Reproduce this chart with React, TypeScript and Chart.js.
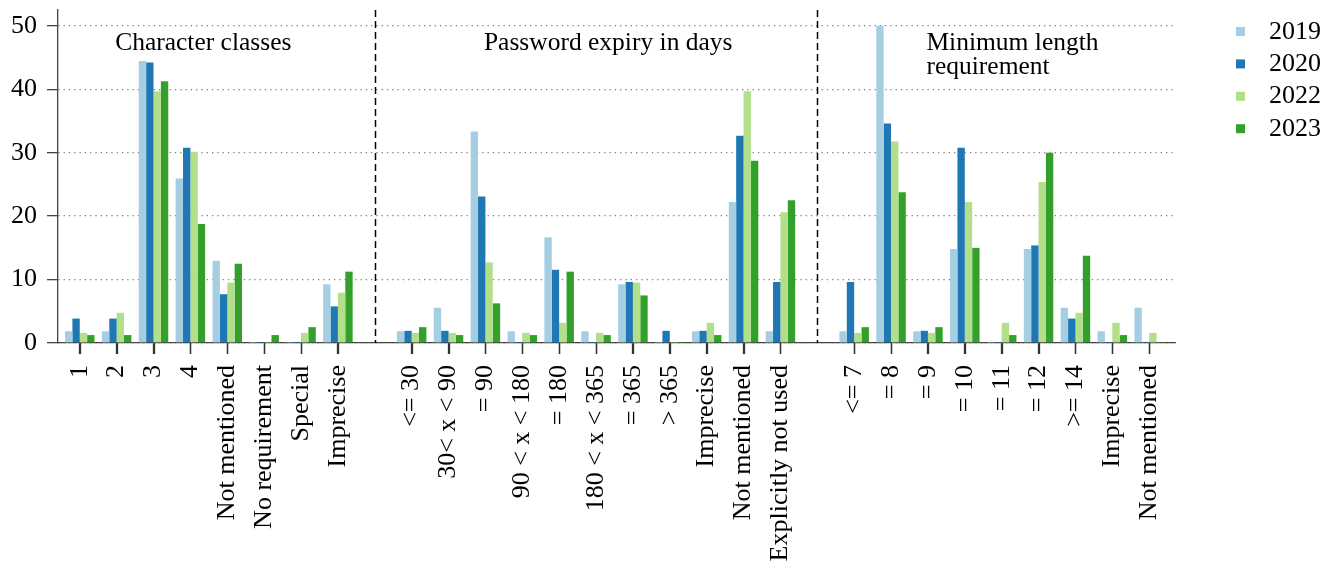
import React, { useEffect, useRef } from 'react';
import { Chart, registerables } from 'chart.js';

Chart.register(...registerables);

const FONT = '"Liberation Serif", "DejaVu Serif", serif';

const years = ['2019', '2020', '2022', '2023'];
const yearColors = ['#a6cee3', '#1f78b4', '#b2df8a', '#33a02c'];

const charClassCategories = ['1', '2', '3', '4', 'Not mentioned', 'No requirement', 'Special', 'Imprecise'];
const expiryCategories = ['<= 30', '30< x < 90', '= 90', '90 < x < 180', '= 180', '180 < x < 365', '= 365', '> 365', 'Imprecise', 'Not mentioned', 'Explicitly not used'];
const minLengthCategories = ['<= 7', '= 8', '= 9', '= 10', '= 11', '= 12', '>= 14', 'Imprecise', 'Not mentioned'];

const groupTitles = [['Character classes'], ['Password expiry in days'], ['Minimum length', 'requirement']];

// Percentages per year
const charClass2019 = [1.85, 1.85, 44.44, 25.93, 12.96, 0, 0, 9.26];
const charClass2020 = [3.85, 3.85, 44.23, 30.77, 7.69, 0, 0, 5.77];
const charClass2022 = [1.59, 4.76, 39.68, 30.16, 9.52, 0, 1.59, 7.94];
const charClass2023 = [1.25, 1.25, 41.25, 18.75, 12.5, 1.25, 2.5, 11.25];

const expiry2019 = [1.85, 5.56, 33.33, 1.85, 16.67, 1.85, 9.26, 0, 1.85, 22.22, 1.85];
const expiry2020 = [1.92, 1.92, 23.08, 0, 11.54, 0, 9.62, 1.92, 1.92, 32.69, 9.62];
const expiry2022 = [1.59, 1.59, 12.7, 1.59, 3.17, 1.59, 9.52, 0, 3.17, 39.68, 20.63];
const expiry2023 = [2.5, 1.25, 6.25, 1.25, 11.25, 1.25, 7.5, 0, 1.25, 28.75, 22.5];

const minLength2019 = [1.85, 50, 1.85, 14.81, 0, 14.81, 5.56, 1.85, 5.56];
const minLength2020 = [9.62, 34.62, 1.92, 30.77, 0, 15.38, 3.85, 0, 0];
const minLength2022 = [1.59, 31.75, 1.59, 22.22, 3.17, 25.4, 4.76, 3.17, 1.59];
const minLength2023 = [2.5, 23.75, 2.5, 15, 1.25, 30, 13.75, 1.25, 0];

const yTickValues = [0, 10, 20, 30, 40, 50];

const groups = [charClassCategories, expiryCategories, minLengthCategories];
const seriesByYear = [
  [charClass2019, expiry2019, minLength2019],
  [charClass2020, expiry2020, minLength2020],
  [charClass2022, expiry2022, minLength2022],
  [charClass2023, expiry2023, minLength2023],
];

// positions: groups separated by one empty slot
const groupStarts: number[] = [];
{
  let s = 0;
  for (const g of groups) {
    groupStarts.push(s);
    s += g.length + 1;
  }
}
const separatorPositions = groupStarts.slice(1).map((s) => s - 1);
const tickPositions: number[] = [];
const tickLabelMap: Record<number, string> = {};
groups.forEach((g, gi) => {
  g.forEach((lab, i) => {
    const p = groupStarts[gi] + i;
    tickPositions.push(p);
    tickLabelMap[p] = lab;
  });
});

export default function App() {
  const ref = useRef<HTMLCanvasElement | null>(null);

  useEffect(() => {
    if (!ref.current) return;

    const datasets = years.map((yr, yi) => {
      const data: { x: number; y: number }[] = [];
      groups.forEach((g, gi) => {
        seriesByYear[yi][gi].forEach((v, i) => data.push({ x: groupStarts[gi] + i, y: v }));
      });
      return {
        label: yr,
        data,
        backgroundColor: yearColors[yi],
        borderWidth: 0,
        categoryPercentage: 0.8,
        barPercentage: 1.0,
        minBarLength: 1,
      };
    });

    const overlay = {
      id: 'overlay',
      afterDraw(chart: any) {
        const { ctx, chartArea, scales } = chart;
        const xs = scales.x;
        ctx.save();
        // x tick marks
        ctx.strokeStyle = '#333';
        ctx.lineWidth = 1.3;
        for (const p of tickPositions) {
          const px = Math.round(xs.getPixelForValue(p)) + 0.5;
          ctx.beginPath();
          ctx.moveTo(px, chartArea.bottom);
          ctx.lineTo(px, chartArea.bottom + 11);
          ctx.stroke();
        }
        // separators
        ctx.strokeStyle = '#000';
        ctx.lineWidth = 1.5;
        ctx.setLineDash([7, 4]);
        for (const p of separatorPositions) {
          const px = Math.round(xs.getPixelForValue(p)) + 0.5;
          ctx.beginPath();
          ctx.moveTo(px, chartArea.top);
          ctx.lineTo(px, chartArea.bottom);
          ctx.stroke();
        }
        ctx.setLineDash([]);
        // group titles
        ctx.fillStyle = '#000';
        ctx.font = `25.5px ${FONT}`;
        ctx.textAlign = 'left';
        ctx.textBaseline = 'alphabetic';
        groupTitles.forEach((lines, gi) => {
          const px = xs.getPixelForValue(groupStarts[gi] + (gi === 0 ? 1 : 2)) - 1.5;
          lines.forEach((ln, li) => {
            ctx.fillText(ln, px, 50 + li * 24);
          });
        });
        // legend
        ctx.font = `26px ${FONT}`;
        chart.data.datasets.forEach((ds: any, i: number) => {
          const cy = 31.5 + i * 32.4;
          ctx.fillStyle = ds.backgroundColor;
          ctx.fillRect(1236, cy - 4.5, 9, 9);
          ctx.fillStyle = '#000';
          ctx.fillText(ds.label, 1269, cy + 7);
        });
        ctx.restore();
      },
    };

    const chart = new Chart(ref.current, {
      type: 'bar',
      data: { datasets },
      options: {
        animation: false,
        responsive: true,
        maintainAspectRatio: false,
        layout: { padding: { top: 10, right: 157, left: 0, bottom: 0 } },
        plugins: { legend: { display: false }, tooltip: { enabled: false } },
        scales: {
          x: {
            type: 'linear',
            offset: false,
            min: -0.59,
            max: 29.7,
            afterBuildTicks: (scale: any) => {
              scale.ticks = tickPositions.map((v) => ({ value: v }));
            },
            afterFit: (scale: any) => {
              scale.height = 222;
              scale.paddingLeft = 0;
              scale.paddingRight = 0;
            },
            ticks: {
              autoSkip: false,
              minRotation: 90,
              maxRotation: 90,
              padding: 11,
              color: '#000',
              font: { family: FONT, size: 26 },
              callback: (v: any) => tickLabelMap[v as number] ?? '',
            },
            grid: {
              display: true,
              offset: false,
              drawOnChartArea: false,
              drawTicks: true,
              tickLength: 11,
              tickColor: '#333',
              tickWidth: 1.3,
            },
            border: { display: true, color: '#444', width: 1.3 },
          },
          y: {
            type: 'linear',
            min: 0,
            max: 52.5,
            afterBuildTicks: (scale: any) => {
              scale.ticks = yTickValues.map((v) => ({ value: v }));
            },
            afterFit: (scale: any) => {
              scale.width = 58;
              scale.paddingTop = 0;
              scale.paddingBottom = 0;
            },
            ticks: {
              padding: 10,
              color: '#000',
              font: { family: FONT, size: 26 },
            },
            grid: {
              display: true,
              drawOnChartArea: true,
              drawTicks: true,
              tickLength: 11,
              tickColor: '#444',
              tickWidth: 1.3,
              tickBorderDash: [],
              color: 'rgba(0,0,0,0.5)',
              lineWidth: 1.3,
            },
            border: { display: true, color: '#444', width: 1.3, dash: [1.3, 4] },
          },
        },
      },
      plugins: [overlay],
    } as any);

    return () => chart.destroy();
  }, []);

  return (
    <div style={{ position: 'fixed', left: 0, top: 0, width: 1332, height: 565, background: '#fff' }}>
      <canvas ref={ref} />
    </div>
  );
}
